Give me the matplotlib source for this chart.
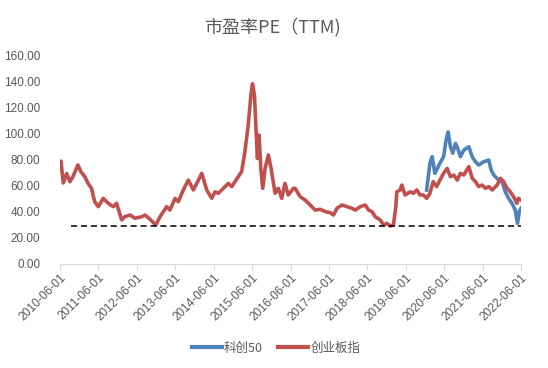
import matplotlib
matplotlib.use("Agg")
import matplotlib.pyplot as plt
import pandas as pd

# ---- data ----
cyb_dates = [
    "2010-06-01", "2010-06-10", "2010-07-02", "2010-08-03", "2010-09-03", "2010-10-02",
    "2010-11-18", "2010-12-16", "2011-01-23", "2011-02-23", "2011-03-27", "2011-04-27",
    "2011-05-31", "2011-07-17", "2011-09-03", "2011-10-20", "2011-11-21", "2012-01-08",
    "2012-02-08", "2012-03-27", "2012-05-14", "2012-07-17", "2012-08-17", "2012-10-04",
    "2012-11-28", "2013-01-07", "2013-03-11", "2013-04-11", "2013-05-30", "2013-06-30",
    "2013-08-16", "2013-10-03", "2013-11-20", "2013-12-22", "2014-02-08", "2014-03-27",
    "2014-05-14", "2014-06-14", "2014-07-15", "2014-09-01", "2014-10-19", "2014-11-20",
    "2014-12-21", "2015-01-21", "2015-02-22", "2015-03-25", "2015-04-25", "2015-05-21",
    "2015-06-05", "2015-06-24", "2015-07-07", "2015-07-22", "2015-08-07", "2015-08-23",
    "2015-09-11", "2015-10-03", "2015-11-03", "2015-11-29", "2016-01-06", "2016-02-06",
    "2016-03-09", "2016-04-09", "2016-05-10", "2016-06-28", "2016-07-14", "2016-08-31",
    "2016-10-18", "2016-12-05", "2017-01-21", "2017-03-10", "2017-04-28", "2017-06-14",
    "2017-07-15", "2017-08-16", "2017-10-03", "2017-11-20", "2018-01-06", "2018-02-06",
    "2018-03-26", "2018-05-12", "2018-06-13", "2018-07-15", "2018-08-15", "2018-10-02",
    "2018-11-02", "2018-12-04", "2019-01-04", "2019-02-04", "2019-02-27", "2019-03-08",
    "2019-04-09", "2019-04-25", "2019-05-26", "2019-07-13", "2019-08-13", "2019-09-14",
    "2019-10-15", "2019-11-15", "2019-12-17", "2020-01-17", "2020-02-17", "2020-03-21",
    "2020-04-21", "2020-05-26", "2020-06-29", "2020-07-30", "2020-08-31", "2020-10-02",
    "2020-11-02", "2020-12-04", "2021-01-21", "2021-02-22", "2021-03-25", "2021-04-25",
    "2021-05-27", "2021-06-28", "2021-07-29", "2021-08-31", "2021-10-17", "2021-11-17",
    "2021-12-18", "2022-01-19", "2022-02-19", "2022-03-22", "2022-04-23", "2022-05-08",
    "2022-06-01",
]
cyb_pe = [
    72.0, 78.5, 61.8, 69.0, 62.8, 66.6,
    75.6, 70.5, 66.6, 61.5, 57.7, 47.4,
    43.6, 50.0, 46.2, 43.6, 46.2, 33.4,
    35.9, 37.2, 34.7, 35.9, 37.2, 33.9,
    29.5, 35.9, 43.6, 41.0, 50.0, 47.4,
    56.4, 64.0, 56.4, 61.5, 69.2, 56.4,
    50.0, 55.0, 53.9, 57.7, 61.5, 59.0,
    62.8, 66.6, 70.5, 85.8, 106.0, 129.0,
    138.0, 129.0, 106.0, 80.7, 98.6, 73.0,
    57.7, 73.0, 83.3, 73.0, 53.9, 57.7,
    50.0, 61.5, 52.6, 57.7, 57.7, 51.3,
    48.7, 44.9, 41.0, 41.6, 39.8, 39.0,
    37.2, 42.4, 44.9, 43.6, 42.4, 41.0,
    43.6, 44.9, 41.0, 39.8, 35.9, 33.4,
    29.5, 30.8, 28.8, 29.5, 43.6, 55.0,
    56.4, 60.2, 52.6, 55.0, 53.9, 56.4,
    52.6, 52.6, 50.0, 53.9, 62.8, 59.0,
    64.0, 69.2, 73.0, 66.6, 67.9, 64.0,
    69.2, 67.9, 74.3, 65.4, 62.8, 59.0,
    60.2, 57.7, 59.0, 56.4, 60.2, 65.4,
    62.8, 57.7, 55.0, 51.3, 46.2, 50.0,
    48.7,
]

kc50_dates = [
    "2019-12-17", "2020-01-17", "2020-02-07", "2020-03-04", "2020-04-21", "2020-05-26",
    "2020-06-19", "2020-07-08", "2020-07-30", "2020-08-21", "2020-09-16", "2020-10-02",
    "2020-11-02", "2020-12-04", "2021-01-21", "2021-02-22", "2021-03-25", "2021-04-25",
    "2021-06-12", "2021-07-29", "2021-08-21", "2021-09-15", "2021-11-01", "2021-12-03",
    "2022-01-03", "2022-02-03", "2022-03-07", "2022-04-07", "2022-04-29", "2022-05-15",
    "2022-06-01",
]
kc50_pe = [
    56.4, 76.9, 82.0, 69.2, 76.9, 82.0,
    94.8, 101.0, 89.6, 84.6, 92.2, 89.6,
    82.0, 87.0, 89.6, 82.0, 78.1, 75.6,
    78.1, 79.4, 71.8, 67.9, 64.0, 62.8,
    55.0, 50.0, 46.2, 41.0, 30.8, 39.8,
    42.4,
]

floor_start = "2010-09-15"
floor_end = "2022-06-01"
floor_value = 28.8

tick_labels = ["2010-06-01", "2011-06-01", "2012-06-01", "2013-06-01", "2014-06-01",
               "2015-06-01", "2016-06-01", "2017-06-01", "2018-06-01", "2019-06-01",
               "2020-06-01", "2021-06-01", "2022-06-01"]
y_ticks = [0, 20, 40, 60, 80, 100, 120, 140, 160]

series_names = ["科创50", "创业板指"]
title = "市盈率PE（TTM)"

# ---- figure ----
TXT = "#595959"
BLUE = "#4F81BD"
RED = "#C0504D"

fig = plt.figure(figsize=(5.48, 3.68), dpi=100)
ax = fig.add_axes([60 / 548, 1 - 263.5 / 368, 461 / 548, 208.5 / 368])

cjk = ["Noto Sans CJK SC", "DejaVu Sans"]

ax.plot(pd.to_datetime(kc50_dates), kc50_pe, color=BLUE, lw=2.6,
        solid_joinstyle="round", label=series_names[0], zorder=2)
ax.plot(pd.to_datetime(cyb_dates), cyb_pe, color=RED, lw=2.6,
        solid_joinstyle="round", label=series_names[1], zorder=3)
ax.plot(pd.to_datetime([floor_start, floor_end]), [floor_value, floor_value],
        color="black", lw=1.1, ls=(0, (4, 2.5)), zorder=4)

ax.set_xlim(pd.Timestamp(tick_labels[0]), pd.Timestamp(tick_labels[-1]))
ax.set_ylim(0, 160)
ax.set_yticks(y_ticks)
ax.set_yticklabels([f"{v:.2f}" for v in y_ticks], fontsize=8.5,
                   color=TXT, family="Liberation Sans")
ax.set_xticks(pd.to_datetime(tick_labels))
ax.set_xticklabels(tick_labels, rotation=45, ha="right", rotation_mode="anchor",
                   fontsize=8.5, color=TXT, family="Liberation Sans")

for s in ["left", "right", "top"]:
    ax.spines[s].set_visible(False)
ax.spines["bottom"].set_color("#D9D9D9")
ax.spines["bottom"].set_linewidth(0.8)
ax.tick_params(axis="y", length=0, pad=14)
ax.tick_params(axis="x", length=4, width=0.8, color="#D9D9D9", pad=2)

fig.text(272 / 548, 1 - 27 / 368, title, ha="center", va="center",
         fontsize=13, color=TXT, family=cjk)

leg = fig.legend(loc="center", bbox_to_anchor=(276 / 548, 1 - 348 / 368),
                 ncol=2, frameon=False, prop={"family": cjk, "size": 9},
                 handlelength=2.4, columnspacing=1.2, handletextpad=0.2)
for t in leg.get_texts():
    t.set_color(TXT)
for h in leg.get_lines():
    h.set_linewidth(3)

fig.savefig("out.png", dpi=100)
